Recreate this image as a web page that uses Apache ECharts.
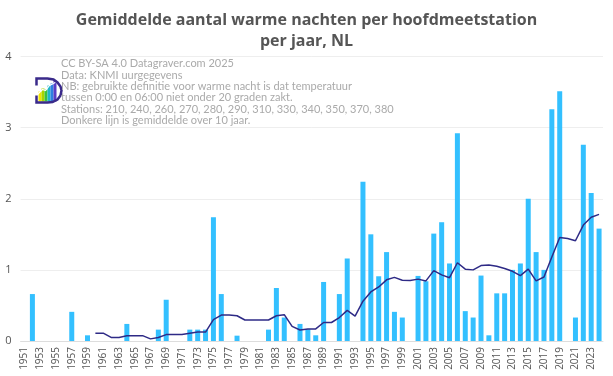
<!DOCTYPE html>
<html><head><meta charset="utf-8">
<script src="https://cdn.jsdelivr.net/npm/echarts@6/dist/echarts.min.js"></script>
<style>html,body{margin:0;padding:0;background:#fff}#c{width:613px;height:376px}</style>
</head><body><div id="c"></div>
<script>
const years = [];
for (let y = 1951; y <= 2024; y++) years.push(String(y));

const warmNights = {
  1952:0.66, 1957:0.41, 1959:0.08, 1964:0.24, 1968:0.16, 1969:0.58,
  1972:0.16, 1973:0.16, 1974:0.16, 1975:1.74, 1976:0.66, 1978:0.075,
  1982:0.16, 1983:0.745, 1984:0.33, 1986:0.24, 1987:0.165, 1988:0.08,
  1989:0.83, 1991:0.66, 1992:1.16, 1994:2.24, 1995:1.50, 1996:0.91,
  1997:1.25, 1998:0.41, 1999:0.33, 2001:0.915, 2002:0.84, 2003:1.51,
  2004:1.67, 2005:1.09, 2006:2.92, 2007:0.42, 2008:0.33, 2009:0.92,
  2010:0.08, 2011:0.67, 2012:0.67, 2013:1.0, 2014:1.09, 2015:2.0,
  2016:1.25, 2017:1.0, 2018:3.26, 2019:3.51, 2021:0.33, 2022:2.76,
  2023:2.08, 2024:1.58
};
const avg10 = {
  1960:0.11, 1961:0.11, 1962:0.05, 1963:0.05, 1964:0.075, 1965:0.075,
  1966:0.075, 1967:0.03, 1968:0.05, 1969:0.09, 1970:0.09, 1971:0.09,
  1972:0.11, 1973:0.125, 1974:0.125, 1975:0.30, 1976:0.365, 1977:0.365,
  1978:0.355, 1979:0.295, 1980:0.295, 1981:0.295, 1982:0.295, 1983:0.355,
  1984:0.37, 1985:0.205, 1986:0.155, 1987:0.17, 1988:0.17, 1989:0.26,
  1990:0.26, 1991:0.33, 1992:0.43, 1993:0.35, 1994:0.56, 1995:0.69,
  1996:0.76, 1997:0.86, 1998:0.895, 1999:0.855, 2000:0.85, 2001:0.87,
  2002:0.845, 2003:0.99, 2004:0.93, 2005:0.89, 2006:1.10, 2007:1.01,
  2008:1.0, 2009:1.06, 2010:1.07, 2011:1.05, 2012:1.02, 2013:0.98,
  2014:0.92, 2015:1.01, 2016:0.845, 2017:0.90, 2018:1.18, 2019:1.455,
  2020:1.44, 2021:1.41, 2022:1.63, 2023:1.74, 2024:1.78
};
const yTicks = [0, 1, 2, 3, 4];
const titleText = 'Gemiddelde aantal warme nachten per hoofdmeetstation\nper jaar, NL';
const noteText = [
  'CC BY-SA 4.0 Datagraver.com 2025',
  'Data: KNMI uurgegevens',
  'NB: gebruikte definitie voor warme nacht is dat temperatuur',
  'tussen 0:00 en 06:00 niet onder 20 graden zakt.',
  'Stations: 210, 240, 260, 270, 280, 290, 310, 330, 340, 350, 370, 380',
  'Donkere lijn is gemiddelde over 10 jaar.'
];

const barData = years.map(y => warmNights[y] !== undefined ? warmNights[y] : 0);
const lineData = years.map(y => avg10[y] !== undefined ? avg10[y] : null);

const chart = echarts.init(document.getElementById('c'), null, {renderer: 'canvas'});
chart.setOption({
  animation: false,
  backgroundColor: '#fff',
  title: {
    text: titleText, left: 'center', top: 5,
    textStyle: {fontFamily: 'Open Sans', fontWeight: 'bold', fontSize: 16, color: '#555', lineHeight: 21}
  },
  grid: {left: 20.6, right: 10, top: 56.5, bottom: 35},
  xAxis: {
    type: 'category', data: years, boundaryGap: true,
    axisLine: {lineStyle: {color: '#ddd'}},
    axisTick: {show: false},
    axisLabel: {interval: 1, rotate: 90, fontFamily: 'Open Sans', fontSize: 10, color: '#555', margin: 6}
  },
  yAxis: {
    type: 'value', min: 0, max: 4, interval: 1,
    axisLine: {show: false}, axisTick: {show: false},
    axisLabel: {fontFamily: 'Open Sans', fontSize: 11, color: '#555', margin: 9,
      formatter: v => yTicks.includes(v) ? String(v) : ''},
    splitLine: {lineStyle: {color: '#eee'}}
  },
  graphic: [
    {type: 'text', left: 61, top: 58, z: 10,
     style: {text: noteText.join('\n'), fontFamily: 'Lato', fontSize: 11, lineHeight: 11.4, fill: '#aaa'}},
    {type: 'group', left: 34, top: 76, z: 10, children: [
      {type: 'rect', shape: {x: 3, y: 14, width: 3, height: 10}, style: {fill: '#f2e600'}},
      {type: 'rect', shape: {x: 6, y: 11, width: 3, height: 13}, style: {fill: '#a6d400'}},
      {type: 'rect', shape: {x: 9, y: 12, width: 3, height: 12}, style: {fill: '#3cc23c'}},
      {type: 'rect', shape: {x: 12, y: 8, width: 3, height: 16}, style: {fill: '#1fb5c9'}},
      {type: 'rect', shape: {x: 15, y: 6, width: 3, height: 18}, style: {fill: '#2f7fe0'}},
      {type: 'rect', shape: {x: 18, y: 3, width: 3, height: 21}, style: {fill: '#5b3cc4'}},
      {type: 'polyline', shape: {points: [[2,17],[7,12],[10,13],[14,8],[18,6],[24,2]]}, style: {stroke: '#fff', lineWidth: 1.2, fill: null}},
      {type: 'polyline', shape: {points: [[1,8],[1,1],[12,1],[18,2],[22,5],[25,9],[26,13],[25,18],[22,22],[17,24.5],[12,25],[1,25],[1,18]]}, style: {stroke: '#3a2a8a', lineWidth: 2.5, fill: null}}
    ]}
  ],
  series: [
    {type: 'bar', data: barData, barWidth: 5, itemStyle: {color: '#33c0ff'}, z: 2},
    {type: 'line', data: lineData, showSymbol: false, symbol: 'none', connectNulls: false,
     lineStyle: {color: '#2e2a86', width: 1.5}, itemStyle: {color: '#2e2a86'}, z: 3}
  ]
});
</script></body></html>
